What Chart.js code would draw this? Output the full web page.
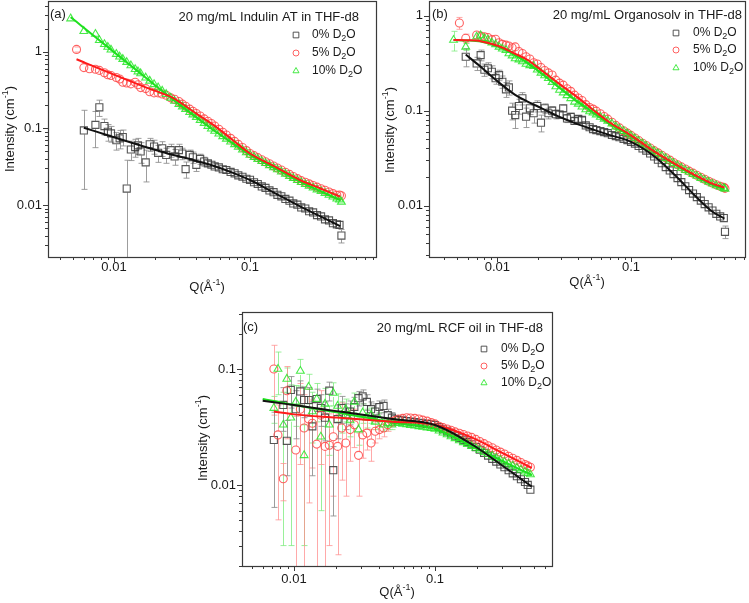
<!DOCTYPE html>
<html>
<head>
<meta charset="utf-8">
<script src="https://cdn.jsdelivr.net/npm/chart.js@4.4.0/dist/chart.umd.min.js"></script>
<style>
    html, body { margin: 0; padding: 0; background: #ffffff; }
    #page { position: relative; width: 749px; height: 603px; overflow: hidden; }
    canvas { position: absolute; }
</style>
</head>
<body>
<div id="page">
    <canvas id="chartA" width="380" height="300" style="left:0px;top:0px"></canvas>
    <canvas id="chartB" width="369" height="300" style="left:380px;top:0px"></canvas>
    <canvas id="chartC" width="380" height="303" style="left:190px;top:300px"></canvas>
</div>
<script>
// Series labels and panel texts
const seriesLabels = ['0% D₂O', '5% D₂O', '10% D₂O'];
const yTitle = 'Intensity (cm⁻¹)';
const xTitle = 'Q(Å⁻¹)';

// ---- Panel (a): 20 mg/mL Indulin AT ----
const qA = [
    0.0048, 0.0053, 0.0060, 0.0066, 0.0073, 0.0078, 0.0085, 0.0090, 0.0095, 0.0104,
    0.0110, 0.0116, 0.0124, 0.0133, 0.0143, 0.0150, 0.0157, 0.0171, 0.0183, 0.0197,
    0.0211, 0.0226, 0.0242, 0.0261, 0.0279, 0.0300, 0.0318, 0.0336, 0.0360, 0.0380,
    0.0403, 0.0430, 0.0460, 0.0490, 0.052, 0.055, 0.059, 0.063, 0.067, 0.072,
    0.077, 0.082, 0.088, 0.094, 0.100, 0.107, 0.114, 0.122, 0.130, 0.139,
    0.149, 0.159, 0.170, 0.182, 0.195, 0.208, 0.223, 0.238, 0.255, 0.272,
    0.291, 0.311, 0.333, 0.356, 0.381, 0.407, 0.435, 0.455, 0.470
];
const blackA = [
    null, null, 0.094, null, 0.111, 0.188, 0.107, 0.090, 0.086, 0.070,
    0.074, 0.077, 0.0164, 0.053, 0.057, 0.060, 0.050, 0.036, 0.062, 0.058,
    0.048, 0.055, 0.045, 0.052, 0.043, 0.052, 0.047, 0.0294, 0.045, 0.042,
    0.0334, 0.040, 0.037, 0.035, 0.0335, 0.0319, 0.0309, 0.0293, 0.0286, 0.0270,
    0.0259, 0.0244, 0.0234, 0.0220, 0.0213, 0.0198, 0.0188, 0.0175, 0.0167, 0.0155,
    0.0147, 0.0136, 0.0130, 0.0120, 0.0114, 0.0105, 0.0101, 0.0093, 0.0090, 0.0083,
    0.0080, 0.0074, 0.0071, 0.0065, 0.0063, 0.0058, 0.0056, 0.0055, 0.0040
];
const blackErrA = [
    null, null, 0.078, null, 0.055, 0.045, 0.025, 0.022, 0.02, 0.018,
    0.02, 0.018, 0.022, 0.015, 0.015, 0.014, 0.015, 0.016, 0.012, 0.012,
    0.012, 0.012, 0.01, 0.01, 0.01, 0.01, 0.008, 0.007, 0.007, 0.007,
    0.006, 0.006, 0.005, 0.003, null, null, null, null, null, null,
    null, null, null, null, null, null, null, null, null, null,
    null, null, null, null, null, null, null, null, null, null,
    null, null, null, null, null, null, null, null, 0.0008
];
const redA = [
    null, 1.07, 0.62, 0.60, 0.59, 0.57, 0.53, 0.50, 0.49, 0.46,
    0.44, 0.40, 0.39, 0.38, 0.40, 0.37, 0.34, 0.33, 0.30, 0.29,
    0.29, 0.28, 0.27, 0.25, 0.24, 0.224, 0.207, 0.194, 0.178, 0.167,
    0.156, 0.145, 0.133, 0.124, 0.1155, 0.1075, 0.0973, 0.0891, 0.0818, 0.0741,
    0.0676, 0.0618, 0.0562, 0.0513, 0.0470, 0.0441, 0.0415, 0.0390, 0.0367, 0.0345,
    0.0323, 0.0304, 0.0286, 0.0268, 0.0251, 0.0236, 0.0221, 0.0208, 0.0198, 0.0189,
    0.0180, 0.0171, 0.0163, 0.0156, 0.0148, 0.0141, 0.0134, 0.0135, 0.0132
];
const redErrA = [null, 0.08];
const greenA = [
    2.70, null, 1.85, null, 1.70, 1.41, 1.25, 1.15, 1.06, 0.93,
    0.86, 0.80, 0.73, 0.66, 0.59, 0.55, 0.52, 0.458, 0.416, 0.375,
    0.340, 0.308, 0.279, 0.250, 0.227, 0.207, 0.192, 0.178, 0.162, 0.151,
    0.140, 0.128, 0.117, 0.107, 0.099, 0.0925, 0.0849, 0.0786, 0.0729, 0.0670,
    0.0618, 0.0571, 0.0526, 0.0485, 0.0450, 0.0422, 0.0397, 0.0373, 0.0350, 0.0329,
    0.0308, 0.0290, 0.0272, 0.0255, 0.0238, 0.0224, 0.0210, 0.0198, 0.0187, 0.0177,
    0.0168, 0.0159, 0.0151, 0.0143, 0.0135, 0.0128, 0.0121, 0.0117, 0.0110
];
const greenErrA = [];
const fitQA = [0.0048, 0.0053, 0.006, 0.01, 0.0175, 0.0273, 0.038, 0.0537, 0.075, 0.1, 0.15, 0.233, 0.33, 0.46];
const fitBlackA = [null, null, 0.102, 0.0765, 0.0564, 0.0448, 0.0388, 0.0326, 0.0263, 0.0212, 0.0145, 0.0096, 0.0071, 0.0053];
const fitRedA = [null, 0.796, 0.727, 0.502, 0.337, 0.248, 0.167, 0.111, 0.070, 0.047, 0.0321, 0.0212, 0.01645, 0.0129];
const fitGreenA = [2.82, 2.45, 2.05, 0.986, 0.443, 0.235, 0.151, 0.095, 0.0636, 0.045, 0.0306, 0.0202, 0.0152, 0.0116];

// ---- Panel (b): 20 mg/mL Organosolv ----
const qB = [
    0.0047, 0.0052, 0.0058, 0.0064, 0.0070, 0.0075, 0.0080, 0.0085, 0.0091, 0.0097,
    0.0103, 0.0109, 0.0116, 0.0122, 0.0129, 0.0136, 0.0145, 0.0154, 0.0164, 0.0175,
    0.0187, 0.0199, 0.0212, 0.0226, 0.0241, 0.0257, 0.0274, 0.0292, 0.0311, 0.0332,
    0.0354, 0.0378, 0.0403, 0.0430, 0.0459, 0.0490, 0.052, 0.055, 0.059, 0.063,
    0.067, 0.072, 0.077, 0.082, 0.088, 0.094, 0.100, 0.107, 0.114, 0.122,
    0.130, 0.139, 0.149, 0.159, 0.170, 0.182, 0.195, 0.208, 0.223, 0.238,
    0.255, 0.272, 0.291, 0.311, 0.333, 0.356, 0.381, 0.407, 0.435, 0.465,
    0.495, 0.505
];
const blackB = [
    null, null, 0.37, null, 0.315, 0.385, 0.27, 0.28, 0.257, 0.22,
    0.237, 0.202, 0.168, 0.176, 0.100, 0.090, 0.112, 0.135, 0.0865, 0.106,
    0.094, 0.112, 0.0748, 0.106, 0.094, 0.100, 0.092, 0.091, 0.106, 0.083,
    0.086, 0.078, 0.082, 0.080, 0.070, 0.067, 0.064, 0.0625, 0.061, 0.0595,
    0.058, 0.0555, 0.054, 0.0525, 0.0505, 0.049, 0.047, 0.045, 0.0425, 0.040,
    0.038, 0.0355, 0.033, 0.0305, 0.028, 0.0255, 0.0235, 0.0215, 0.0195, 0.0177,
    0.016, 0.0146, 0.0134, 0.0123, 0.0113, 0.0104, 0.0096, 0.0089, 0.0082, 0.0077,
    0.0074, 0.0053
];
const blackErrB = [
    null, null, 0.08, null, 0.05, 0.05, 0.04, 0.04, 0.04, 0.03,
    0.03, 0.03, 0.03, 0.03, 0.02, 0.025, 0.02, 0.02, 0.02, 0.015,
    0.02, 0.015, 0.015, 0.012, 0.012, 0.01, 0.01, 0.008, 0.008, 0.008,
    0.008, 0.006, 0.006, 0.005, 0.004, 0.003, null, null, null, null,
    null, null, null, null, null, null, null, null, null, null,
    null, null, null, null, null, null, null, null, null, null,
    null, null, null, null, null, null, null, null, null, null,
    null, 0.0008
];
const redB = [
    null, 0.84, 0.58, null, 0.627, 0.61, 0.60, 0.59, 0.56, 0.565,
    0.52, 0.50, 0.49, 0.48, 0.46, 0.47, 0.42, 0.40, 0.37, 0.35,
    0.32, 0.31, 0.285, 0.265, 0.25, 0.238, 0.21, 0.195, 0.186, 0.17,
    0.16, 0.146, 0.136, 0.128, 0.116, 0.108, 0.104, 0.099, 0.093, 0.087,
    0.0815, 0.0755, 0.070, 0.066, 0.0615, 0.058, 0.055, 0.0515, 0.0485, 0.0455,
    0.043, 0.0405, 0.038, 0.036, 0.034, 0.032, 0.0302, 0.0285, 0.027, 0.0256,
    0.0243, 0.0231, 0.022, 0.0209, 0.0199, 0.019, 0.0181, 0.0173, 0.0166, 0.016,
    0.0156, 0.0152
];
const redErrB = [null, 0.12, 0.06];
const greenB = [
    0.555, null, 0.47, null, 0.60, 0.62, 0.58, 0.56, 0.52, 0.50,
    0.47, 0.45, 0.435, 0.40, 0.38, 0.355, 0.345, 0.33, 0.31, 0.30,
    0.295, 0.27, 0.25, 0.235, 0.22, 0.20, 0.18, 0.165, 0.155, 0.145,
    0.135, 0.124, 0.118, 0.110, 0.103, 0.098, 0.095, 0.091, 0.086, 0.082,
    0.078, 0.073, 0.068, 0.0645, 0.061, 0.0575, 0.0545, 0.051, 0.048, 0.045,
    0.0425, 0.040, 0.0375, 0.0355, 0.0335, 0.0315, 0.0297, 0.028, 0.0265, 0.025,
    0.0237, 0.0226, 0.0215, 0.0205, 0.0195, 0.0186, 0.0178, 0.017, 0.0163, 0.0157,
    0.0153, 0.0150
];
const greenErrB = [0.13, null, 0.04];
const fitQB = [0.0047, 0.0058, 0.0075, 0.0102, 0.0135, 0.017, 0.0215, 0.0286, 0.0381, 0.0509, 0.0676, 0.1, 0.15, 0.213, 0.3, 0.4, 0.5];
const fitBlackB = [null, 0.39, 0.29, 0.20, 0.148, 0.124, 0.106, 0.087, 0.074, 0.064, 0.056, 0.047, 0.033, 0.021, 0.0128, 0.0088, 0.0073];
const fitRedB = [0.555, 0.552, 0.54, 0.48, 0.40, 0.34, 0.265, 0.195, 0.145, 0.105, 0.077, 0.055, 0.037, 0.0275, 0.021, 0.0172, 0.0155];
const fitGreenB = [0.555, 0.55, 0.535, 0.47, 0.385, 0.315, 0.245, 0.178, 0.13, 0.098, 0.074, 0.054, 0.037, 0.027, 0.0205, 0.0168, 0.015];

// ---- Panel (c): 20 mg/mL RCF oil ----
const qC = [
    0.0072, 0.0077, 0.0084, 0.0089, 0.0095, 0.0103, 0.0111, 0.0118, 0.0127, 0.0135,
    0.0145, 0.0155, 0.0166, 0.0178, 0.0190, 0.0204, 0.0218, 0.0233, 0.0250, 0.0268,
    0.0287, 0.0307, 0.0329, 0.0352, 0.0377, 0.0404, 0.0432, 0.0463, 0.0495, 0.052,
    0.055, 0.059, 0.063, 0.067, 0.072, 0.077, 0.082, 0.088, 0.094, 0.100,
    0.107, 0.114, 0.122, 0.130, 0.139, 0.149, 0.159, 0.170, 0.182, 0.195,
    0.208, 0.223, 0.238, 0.255, 0.272, 0.291, 0.311, 0.333, 0.356, 0.381,
    0.407, 0.435, 0.455, 0.475
];
const blackC = [
    0.0244, null, 0.049, 0.024, 0.066, 0.045, 0.064, 0.054, 0.054, 0.032,
    0.055, 0.046, 0.038, 0.065, 0.0134, 0.037, 0.046, 0.040, 0.043, 0.047,
    0.056, 0.058, 0.052, 0.045, 0.043, 0.047, 0.048, 0.040, 0.038, 0.0368,
    0.0364, 0.036, 0.0356, 0.0352, 0.0348, 0.0344, 0.034, 0.0336, 0.0333, 0.0329,
    0.0315, 0.0302, 0.029, 0.0278, 0.0266, 0.0255, 0.0245, 0.0235, 0.0224, 0.0212,
    0.0201, 0.0189, 0.0179, 0.0168, 0.0159, 0.015, 0.0142, 0.0134, 0.0126, 0.0119,
    0.0112, 0.0106, 0.0100, 0.0091
];
const blackErrC = [
    0.018, null, 0.02, 0.012, 0.02, 0.02, 0.015, 0.016, 0.015, 0.02,
    0.012, 0.014, 0.014, 0.012, 0.008, 0.012, 0.012, 0.01, 0.01, 0.01,
    0.008, 0.008, 0.008, 0.007, 0.007, 0.006, 0.006, 0.005, 0.004
];
const redC = [
    0.100, 0.027, 0.0113, 0.065, null, 0.020, 0.045, 0.031, 0.037, 0.034,
    0.0225, 0.040, 0.0215, 0.022, 0.026, 0.0215, 0.031, 0.023, 0.030, 0.033,
    0.018, 0.027, 0.028, 0.023, 0.029, 0.030, 0.031, 0.033, 0.035, 0.036,
    0.037, 0.0375, 0.038, 0.0378, 0.0375, 0.037, 0.0362, 0.0355, 0.0345, 0.0336,
    0.0321, 0.0312, 0.0304, 0.0296, 0.0287, 0.0279, 0.0272, 0.0264, 0.0257, 0.0247,
    0.0237, 0.0227, 0.0218, 0.0209, 0.020, 0.0192, 0.0185, 0.0177, 0.017, 0.0163,
    0.0156, 0.015, 0.0146, 0.0142
];
const redErrC = [
    0.06, 0.022, 0.004, 0.04, null, 0.019, 0.03, 0.029, 0.03, 0.02,
    0.021, 0.025, 0.02, 0.019, 0.018, 0.019, 0.02, 0.015, 0.014, 0.012,
    0.01, 0.01, 0.008, 0.007, 0.006, 0.005, 0.005, 0.004, 0.003
];
const greenC = [
    0.046, 0.100, 0.033, 0.082, 0.038, 0.052, 0.096, 0.018, 0.070, 0.043,
    0.055, 0.026, 0.050, 0.033, 0.062, 0.048, 0.040, 0.045, 0.036, 0.052,
    0.030, 0.042, 0.038, 0.040, 0.035, 0.037, 0.033, 0.034, 0.033, 0.0344,
    0.0341, 0.0336, 0.0332, 0.0328, 0.0324, 0.032, 0.0316, 0.0312, 0.0308, 0.0304,
    0.0293, 0.0282, 0.0272, 0.0262, 0.0252, 0.0242, 0.0233, 0.0225, 0.0216, 0.0208,
    0.020, 0.0192, 0.0185, 0.0178, 0.0171, 0.0164, 0.0158, 0.0152, 0.0146, 0.014,
    0.0135, 0.013, 0.0126, 0.0123
];
const greenErrC = [
    0.012, 0.04, 0.03, 0.02, 0.035, 0.02, 0.025, 0.015, 0.02, 0.02,
    0.02, 0.02, 0.018, 0.015, 0.014, 0.013, 0.012, 0.01, 0.01, 0.01,
    0.008, 0.008, 0.007, 0.006, 0.005, 0.005, 0.004, 0.004, 0.003
];
const fitQC = [0.006, 0.0072, 0.01, 0.02, 0.05, 0.1, 0.187, 0.3, 0.485];
const fitBlackC = [0.0533, 0.0517, 0.0488, 0.0433, 0.0370, 0.0329, 0.022, 0.0147, 0.0097];
const fitRedC = [null, 0.0429, 0.0406, 0.0381, 0.0351, 0.033, 0.0253, 0.0189, 0.014];
const fitGreenC = [0.055, 0.0530, 0.049, 0.0424, 0.0347, 0.0304, 0.0213, 0.0161, 0.0122];

const FONT = '"Liberation Sans", Arial, sans-serif';

const STYLE = {
    black: { point: 'rect', radius: 5, color: 'rgba(55,55,55,0.85)', err: 'rgba(140,140,140,0.85)', fit: '#111111' },
    red: { point: 'circle', radius: 4, color: 'rgba(255,70,70,0.85)', err: 'rgba(255,140,140,0.75)', fit: '#ff1a1a' },
    green: { point: 'triangle', radius: 4.5, color: 'rgba(40,230,40,0.85)', err: 'rgba(120,235,120,0.75)', fit: '#1ee01e' }
};

const panels = [
    {
        canvas: 'chartA', tag: '(a)', title: '20 mg/mL Indulin AT in THF-d8',
        q: qA, black: blackA, blackErr: blackErrA, red: redA, redErr: redErrA, green: greenA, greenErr: greenErrA,
        fitQ: fitQA, fitBlack: fitBlackA, fitRed: fitRedA, fitGreen: fitGreenA,
        xMin: 0.00327, xMax: 0.844, yMin: 0.0021, yMax: 4.58,
        yWidth: 48, xHeight: 43, padding: { left: 0, right: 4, top: 1, bottom: 0 }, xPad: 3, yPad: 6,
        tagPos: [50, 14], titlePos: [359, 17], legendX: [296, 312], rows: [35, 53, 71],
        yTitlePos: [10, 129], xTitlePos: [207, 287]
    },
    {
        canvas: 'chartB', tag: '(b)', title: '20 mg/mL Organosolv in THF-d8',
        q: qB, black: blackB, blackErr: blackErrB, red: redB, redErr: redErrB, green: greenB, greenErr: greenErrB,
        fitQ: fitQB, fitBlack: fitBlackB, fitRed: fitRedB, fitGreen: fitGreenB,
        xMin: 0.00308, xMax: 0.713, yMin: 0.00288, yMax: 1.43,
        yWidth: 49, xHeight: 43, padding: { left: 0, right: 4, top: 1, bottom: 0 }, xPad: 3, yPad: 6,
        tagPos: [52, 14], titlePos: [362, 15], legendX: [296, 313], rows: [33, 50, 68],
        yTitlePos: [10, 130], xTitlePos: [207, 282]
    },
    {
        canvas: 'chartC', tag: '(c)', title: '20 mg/mL RCF oil in THF-d8',
        q: qC, black: blackC, blackErr: blackErrC, red: redC, redErr: redErrC, green: greenC, greenErr: greenErrC,
        fitQ: fitQC, fitBlack: fitBlackC, fitRed: fitRedC, fitGreen: fitGreenC,
        xMin: 0.00428, xMax: 0.676, yMin: 0.0020, yMax: 0.31,
        yWidth: 52, xHeight: 37, padding: { left: 0, right: 18, top: 12, bottom: 0 }, xPad: 6, yPad: 6,
        tagPos: [53, 27], titlePos: [353, 28], legendX: [294, 311], rows: [49, 66, 83],
        yTitlePos: [13, 138], xTitlePos: [207, 292]
    }
];

function decadeLabel(value) {
    const lg = Math.log10(value);
    if (Math.abs(lg - Math.round(lg)) > 1e-6) return '';
    const e = Math.round(lg);
    return e >= 0 ? String(Math.pow(10, e)) : Math.pow(10, e).toFixed(-e);
}

function toPoints(q, vals, errs) {
    const pts = [];
    q.forEach(function(x, i) {
        if (vals[i] == null) return;
        pts.push({ x: x, y: vals[i], err: errs ? errs[i] : null });
    });
    return pts;
}

function dataSet(label, key, q, vals, errs, order) {
    const s = STYLE[key];
    return {
        label: label,
        data: toPoints(q, vals, errs),
        showLine: false,
        pointStyle: s.point,
        pointRadius: s.radius,
        pointBorderWidth: 1.1,
        pointBorderColor: s.color,
        pointBackgroundColor: 'rgba(0,0,0,0)',
        errColor: s.err,
        order: order
    };
}

function fitSet(key, q, vals) {
    return {
        label: 'fit',
        data: toPoints(q, vals),
        showLine: true,
        borderColor: STYLE[key].fit,
        borderWidth: 2,
        pointRadius: 0,
        cubicInterpolationMode: 'monotone',
        order: 0
    };
}

// text with sub/superscripts: parts = [[text, shift]], shift 1 = sub, -1 = sup
function drawRich(ctx, parts, x, y, align, size) {
    const widths = parts.map(function(p) {
        ctx.font = (p[1] ? Math.round(size * 0.72) : size) + 'px ' + FONT;
        return ctx.measureText(p[0]).width;
    });
    const total = widths.reduce(function(a, b) { return a + b; }, 0);
    let cx = align === 'right' ? x - total : (align === 'center' ? x - total / 2 : x);
    parts.forEach(function(p, i) {
        ctx.font = (p[1] ? Math.round(size * 0.72) : size) + 'px ' + FONT;
        ctx.fillText(p[0], cx, y + p[1] * size * 0.32);
        cx += widths[i];
    });
}

function splitMarks(str) {
    if (str.indexOf('₂') >= 0) {
        const s = str.split('₂');
        return [[s[0], 0], ['2', 1], [s[1], 0]];
    }
    if (str.indexOf('⁻¹') >= 0) {
        const s = str.split('⁻¹');
        return [[s[0], 0], ['-1', -1], [s[1], 0]];
    }
    return [[str, 0]];
}

function decorPlugin(p) {
    return {
        id: 'decor',
        beforeDatasetsDraw: function(chart) {
            // error bars, under the markers
            const ctx = chart.ctx, area = chart.chartArea;
            const xs = chart.scales.x, ys = chart.scales.y;
            ctx.save();
            ctx.beginPath();
            ctx.rect(area.left, area.top, area.right - area.left, area.bottom - area.top);
            ctx.clip();
            ctx.lineWidth = 1;
            chart.data.datasets.forEach(function(ds) {
                if (!ds.errColor) return;
                ctx.strokeStyle = ds.errColor;
                ds.data.forEach(function(pt) {
                    if (!pt.err) return;
                    const px = Math.round(xs.getPixelForValue(pt.x)) + 0.5;
                    const py = ys.getPixelForValue(pt.y);
                    const top = ys.getPixelForValue(pt.y + pt.err);
                    const lowVal = pt.y - pt.err;
                    const clipped = lowVal <= ys.min;
                    const bot = clipped ? area.bottom + 2 : ys.getPixelForValue(lowVal);
                    ctx.beginPath();
                    if (top < py - 4) { ctx.moveTo(px, top); ctx.lineTo(px, py - 4); }
                    if (bot > py + 4) { ctx.moveTo(px, py + 4); ctx.lineTo(px, bot); }
                    ctx.moveTo(px - 3, top); ctx.lineTo(px + 3, top);
                    if (!clipped) { ctx.moveTo(px - 3, bot); ctx.lineTo(px + 3, bot); }
                    ctx.stroke();
                });
            });
            ctx.restore();
        },
        afterDraw: function(chart) {
            const ctx = chart.ctx, area = chart.chartArea;
            const xs = chart.scales.x, ys = chart.scales.y;
            ctx.save();
            // frame
            ctx.strokeStyle = '#3a3a3a';
            ctx.lineWidth = 1.2;
            ctx.strokeRect(Math.round(area.left) + 0.5, Math.round(area.top) + 0.5,
                Math.round(area.right - area.left), Math.round(area.bottom - area.top));
            // log ticks, pointing out
            ctx.lineWidth = 1;
            ctx.beginPath();
            [[xs, true], [ys, false]].forEach(function(item) {
                const sc = item[0], horiz = item[1];
                for (let e = Math.floor(Math.log10(sc.min)); e <= Math.ceil(Math.log10(sc.max)); e++) {
                    for (let k = 1; k <= 9; k++) {
                        const v = k * Math.pow(10, e);
                        if (v < sc.min || v > sc.max) continue;
                        const len = k === 1 ? 5 : 3;
                        const pos = Math.round(sc.getPixelForValue(v)) + 0.5;
                        if (horiz) {
                            ctx.moveTo(pos, area.bottom); ctx.lineTo(pos, area.bottom + len);
                        } else {
                            ctx.moveTo(area.left, pos); ctx.lineTo(area.left - len, pos);
                        }
                    }
                }
            });
            ctx.stroke();

            // panel texts
            ctx.fillStyle = '#1a1a1a';
            ctx.textBaseline = 'middle';
            drawRich(ctx, [[p.tag, 0]], p.tagPos[0], p.tagPos[1], 'left', 13);
            drawRich(ctx, [[p.title, 0]], p.titlePos[0], p.titlePos[1], 'right', 13);

            // legend
            const keys = ['black', 'red', 'green'];
            keys.forEach(function(key, i) {
                const s = STYLE[key];
                ctx.strokeStyle = s.color;
                ctx.fillStyle = 'rgba(0,0,0,0)';
                ctx.lineWidth = 1;
                Chart.helpers.drawPoint(ctx, {
                    pointStyle: s.point, radius: s.radius - 1, borderWidth: 1, rotation: 0
                }, p.legendX[0], p.rows[i]);
                ctx.fillStyle = '#1a1a1a';
                drawRich(ctx, splitMarks(seriesLabels[i]), p.legendX[1], p.rows[i], 'left', 12);
            });

            // axis titles
            drawRich(ctx, splitMarks(xTitle), p.xTitlePos[0], p.xTitlePos[1], 'center', 13);
            ctx.translate(p.yTitlePos[0], p.yTitlePos[1]);
            ctx.rotate(-Math.PI / 2);
            drawRich(ctx, splitMarks(yTitle), 0, 0, 'center', 13);
            ctx.restore();
        }
    };
}

// fixed axis boxes, no extra room for the edge labels
function fixBox(scale, w, h) {
    if (w != null) scale.width = w;
    if (h != null) scale.height = h;
    scale.paddingTop = 0;
    scale.paddingBottom = 0;
    scale.paddingLeft = 0;
    scale.paddingRight = 0;
}

function buildChart(p) {
    const ctx = document.getElementById(p.canvas).getContext('2d');
    return new Chart(ctx, {
        type: 'scatter',
        data: {
            datasets: [
                fitSet('black', p.fitQ, p.fitBlack),
                fitSet('red', p.fitQ, p.fitRed),
                fitSet('green', p.fitQ, p.fitGreen),
                dataSet(seriesLabels[2], 'green', p.q, p.green, p.greenErr, 1),
                dataSet(seriesLabels[1], 'red', p.q, p.red, p.redErr, 2),
                dataSet(seriesLabels[0], 'black', p.q, p.black, p.blackErr, 3)
            ]
        },
        options: {
            responsive: false,
            animation: false,
            layout: { padding: p.padding, autoPadding: false },
            plugins: {
                legend: { display: false },
                tooltip: { enabled: false }
            },
            scales: {
                x: {
                    type: 'logarithmic',
                    min: p.xMin,
                    max: p.xMax,
                    grid: { display: false, drawTicks: false },
                    border: { display: false },
                    ticks: {
                        autoSkip: false, maxRotation: 0, padding: p.xPad,
                        color: '#1a1a1a', font: { family: FONT, size: 13 },
                        callback: decadeLabel
                    },
                    afterFit: function(scale) { fixBox(scale, null, p.xHeight); }
                },
                y: {
                    type: 'logarithmic',
                    min: p.yMin,
                    max: p.yMax,
                    grid: { display: false, drawTicks: false },
                    border: { display: false },
                    ticks: {
                        autoSkip: false, padding: p.yPad,
                        color: '#1a1a1a', font: { family: FONT, size: 13 },
                        callback: decadeLabel
                    },
                    afterFit: function(scale) { fixBox(scale, p.yWidth, null); }
                }
            }
        },
        plugins: [decorPlugin(p)]
    });
}

panels.forEach(buildChart);
</script>
</body>
</html>
